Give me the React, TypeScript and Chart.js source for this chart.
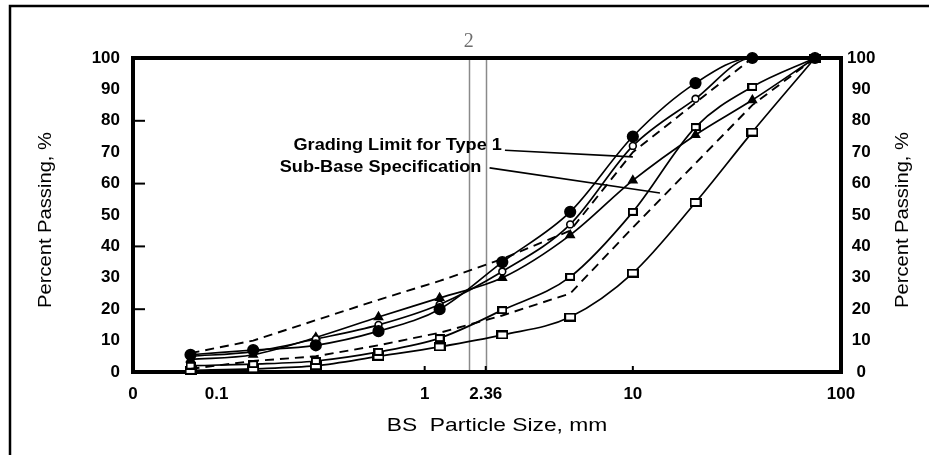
import React, { useEffect, useRef } from "react";
import { Chart, registerables } from "chart.js";

Chart.register(...registerables);

// ---------- data ----------
const sieveSizes = [0.075, 0.15, 0.3, 0.6, 1.18, 2.36, 5, 10, 20, 37.5, 75];

const sampleA = [5.5, 7, 8.5, 13, 20, 35, 51, 75, 92, 100, 100];
const sampleB = [5, 6.5, 10.5, 15, 21.5, 32, 47, 72, 87, 100, 100];
const sampleC = [4, 5.5, 11, 17.5, 23.6, 30, 43.6, 61, 75.5, 86.6, 100];
const sampleD = [2, 2.5, 3.5, 6.4, 10.8, 19.7, 30.3, 51, 78, 90.8, 100];
const sampleE = [0.5, 1, 2, 5, 8, 11.8, 17.5, 31.5, 54, 76.4, 100];

const upperLimit = [6, 10, 16.5, 23, 29, 36, 45, 70, null, 100, 100];
const lowerLimit = [1, 3.5, 5, 8.5, 12.5, 18, 25, 46, null, 85, 100];

const xMin = 0.0397;
const xMax = 100;
const xTickValues = [0.0397, 0.1, 1, 1.965, 10, 100];
const xTickLabels = ["0", "0.1", "1", "2.36", "10", "100"];

const yTickStep = 10;
const innerTickValuesY = [20, 40, 60, 80];
const innerTickValuesX = [1, 1.965, 10];

// vertical sieve reference lines as drawn in the figure
const sieveLineValues = [1.627, 1.965];
const sieveLineTopLabels = ["2", ""];

const annotationTexts = ["Grading Limit for Type 1", "Sub-Base Specification"];
const annotationTextAt = [
  { x: 0.742, y: 72 },
  { x: 0.614, y: 65 },
];
const leaderFrom = [
  { x: 2.43, y: 70.6 },
  { x: 2.05, y: 65 },
];
const leaderTo = [
  { x: 10, y: 68.5 },
  { x: 13.5, y: 57 },
];

const yTitle = "Percent Passing, %";
const xTitle = "BS  Particle Size, mm";

const FONT = "'Liberation Sans', Arial, Helvetica, sans-serif";

const toXY = (vals: (number | null)[]) =>
  sieveSizes.map((s, i) => ({ x: s, y: vals[i] }));

function makeRectMarker(w: number, h: number): HTMLCanvasElement {
  const c = document.createElement("canvas");
  c.width = w;
  c.height = h;
  const g = c.getContext("2d")!;
  g.fillStyle = "#fff";
  g.fillRect(0, 0, w, h);
  g.strokeStyle = "#000";
  g.lineWidth = 2;
  g.strokeRect(1, 1, w - 2, h - 2);
  return c;
}

// text drawn slightly widened, as the scanned figure's lettering is
function drawWideText(
  ctx: CanvasRenderingContext2D,
  text: string,
  x: number,
  y: number,
  stretch: number,
  rotation: number
) {
  ctx.save();
  ctx.translate(x, y);
  ctx.rotate(rotation);
  ctx.scale(stretch, 1);
  ctx.fillText(text, 0, 0);
  ctx.restore();
}

export default function App() {
  const ref = useRef<HTMLCanvasElement>(null);

  useEffect(() => {
    const canvas = ref.current;
    if (!canvas) return;

    const smallRect = makeRectMarker(10, 8);
    const bigRect = makeRectMarker(12, 9);

    const sampleStyle = (
      vals: number[],
      pointStyle: any,
      radius: number,
      filled: boolean
    ) => ({
      data: toXY(vals),
      borderColor: "#000",
      borderWidth: 1.7,
      pointStyle,
      pointRadius: radius,
      pointBorderWidth: 1.6,
      pointBackgroundColor: filled ? "#000" : "#fff",
      pointBorderColor: "#000",
      cubicInterpolationMode: "monotone",
      clip: false,
      xAxisID: "x",
      yAxisID: "y",
    });

    const limitStyle = (vals: (number | null)[]) => ({
      data: toXY(vals),
      borderColor: "#000",
      borderWidth: 1.9,
      borderDash: [9, 6],
      pointRadius: 0,
      tension: 0,
      spanGaps: true,
      clip: false,
      xAxisID: "x",
      yAxisID: "y",
    });

    const decorations = {
      id: "decorations",
      beforeDatasetsDraw(chart: any) {
        const { ctx, chartArea } = chart;
        const xs = chart.scales.x;
        ctx.save();
        ctx.strokeStyle = "#8a8a8a";
        ctx.lineWidth = 1.5;
        sieveLineValues.forEach((v) => {
          const px = Math.round(xs.getPixelForValue(v)) + 0.5;
          ctx.beginPath();
          ctx.moveTo(px, chartArea.top);
          ctx.lineTo(px, chartArea.bottom);
          ctx.stroke();
        });
        ctx.fillStyle = "#6e6e6e";
        ctx.font = "20px 'Liberation Serif', 'DejaVu Serif', serif";
        ctx.textAlign = "center";
        ctx.textBaseline = "middle";
        sieveLineValues.forEach((v, i) => {
          if (!sieveLineTopLabels[i]) return;
          ctx.fillText(sieveLineTopLabels[i], xs.getPixelForValue(v), chartArea.top - 16);
        });
        ctx.strokeStyle = "#000";
        ctx.lineWidth = 4;
        ctx.strokeRect(
          chartArea.left,
          chartArea.top,
          chartArea.right - chartArea.left,
          chartArea.bottom - chartArea.top
        );
        const ys = chart.scales.y;
        ctx.lineWidth = 2;
        innerTickValuesY.forEach((v) => {
          const py = ys.getPixelForValue(v);
          ctx.beginPath();
          ctx.moveTo(chartArea.left, py);
          ctx.lineTo(chartArea.left + 12, py);
          ctx.stroke();
        });
        innerTickValuesX.forEach((v) => {
          const px = xs.getPixelForValue(v);
          ctx.beginPath();
          ctx.moveTo(px, chartArea.bottom);
          ctx.lineTo(px, chartArea.bottom - 6);
          ctx.stroke();
        });
        ctx.restore();
      },
      afterDatasetsDraw(chart: any) {
        const { ctx } = chart;
        const xs = chart.scales.x;
        const ys = chart.scales.y;
        ctx.save();
        ctx.strokeStyle = "#000";
        ctx.lineWidth = 1.6;
        leaderFrom.forEach((p, i) => {
          ctx.beginPath();
          ctx.moveTo(xs.getPixelForValue(p.x), ys.getPixelForValue(p.y));
          ctx.lineTo(xs.getPixelForValue(leaderTo[i].x), ys.getPixelForValue(leaderTo[i].y));
          ctx.stroke();
        });
        ctx.fillStyle = "#000";
        ctx.font = `bold 16.5px ${FONT}`;
        ctx.textAlign = "center";
        ctx.textBaseline = "middle";
        annotationTexts.forEach((t, i) => {
          const a = annotationTextAt[i];
          drawWideText(ctx, t, xs.getPixelForValue(a.x), ys.getPixelForValue(a.y), 1.1, 0);
        });
        ctx.restore();
      },
      afterDraw(chart: any) {
        const { ctx, chartArea } = chart;
        const yL = chart.scales.y;
        const yR = chart.scales.y2;
        const midY = (chartArea.top + chartArea.bottom) / 2 + 5;
        ctx.save();
        ctx.fillStyle = "#000";
        ctx.textAlign = "center";
        ctx.textBaseline = "middle";
        ctx.font = `18.5px ${FONT}`;
        drawWideText(ctx, yTitle, yL.left + 46, midY, 1.09, -Math.PI / 2);
        drawWideText(ctx, yTitle, yR.right - 26, midY, 1.09, -Math.PI / 2);
        ctx.font = `19px ${FONT}`;
        drawWideText(
          ctx,
          xTitle,
          (chartArea.left + chartArea.right) / 2 + 10,
          chartArea.bottom + 54,
          1.2,
          0
        );
        ctx.strokeStyle = "#000";
        ctx.lineWidth = 2.5;
        ctx.strokeRect(10, 6, 960, 480);
        ctx.restore();
      },
    };

    const tickFont = { family: FONT, size: 17, weight: "bold" as const };

    const chart = new Chart(canvas, {
      type: "line",
      data: {
        datasets: [
          limitStyle(upperLimit),
          limitStyle(lowerLimit),
          sampleStyle(sampleA, "circle", 5.3, true),
          sampleStyle(sampleB, "circle", 3.4, false),
          sampleStyle(sampleC, "triangle", 4.6, true),
          sampleStyle(sampleD, smallRect, 5, false),
          sampleStyle(sampleE, bigRect, 6, false),
        ] as any,
      },
      options: {
        responsive: false,
        animation: false,
        devicePixelRatio: 1,
        layout: { padding: { top: 58, left: 0, right: 0, bottom: 0 } },
        plugins: {
          legend: { display: false },
          tooltip: { enabled: false },
        },
        scales: {
          x: {
            type: "logarithmic",
            position: "bottom",
            min: xMin,
            max: xMax,
            bounds: "data",
            afterBuildTicks: (s: any) => {
              s.ticks = xTickValues.map((v) => ({ value: v }));
            },
            afterFit: (s: any) => {
              s.height = 83;
            },
            ticks: {
              autoSkip: false,
              maxRotation: 0,
              minRotation: 0,
              padding: 12,
              color: "#000",
              font: tickFont,
              callback: (_v: any, i: number) => xTickLabels[i],
            },
            grid: { display: false, drawTicks: false },
            border: { display: false },
            title: { display: false },
          },
          y: {
            type: "linear",
            position: "left",
            min: 0,
            max: 100,
            afterFit: (s: any) => {
              s.width = 133;
            },
            ticks: {
              stepSize: yTickStep,
              padding: 13,
              color: "#000",
              font: tickFont,
            },
            grid: { display: false, drawTicks: false },
            border: { display: false },
            title: { display: false },
          },
          y2: {
            type: "linear",
            position: "right",
            min: 0,
            max: 100,
            afterFit: (s: any) => {
              s.width = 88;
            },
            ticks: {
              stepSize: yTickStep,
              padding: 6,
              crossAlign: "center",
              color: "#000",
              font: tickFont,
            },
            grid: { display: false, drawTicks: false },
            border: { display: false },
            title: { display: false },
          },
        },
      } as any,
      plugins: [decorations],
    });

    return () => chart.destroy();
  }, []);

  return (
    <div
      style={{
        position: "fixed",
        left: 0,
        top: 0,
        width: 929,
        height: 455,
        background: "#fff",
      }}
    >
      <canvas ref={ref} width={929} height={455} style={{ display: "block" }} />
    </div>
  );
}
